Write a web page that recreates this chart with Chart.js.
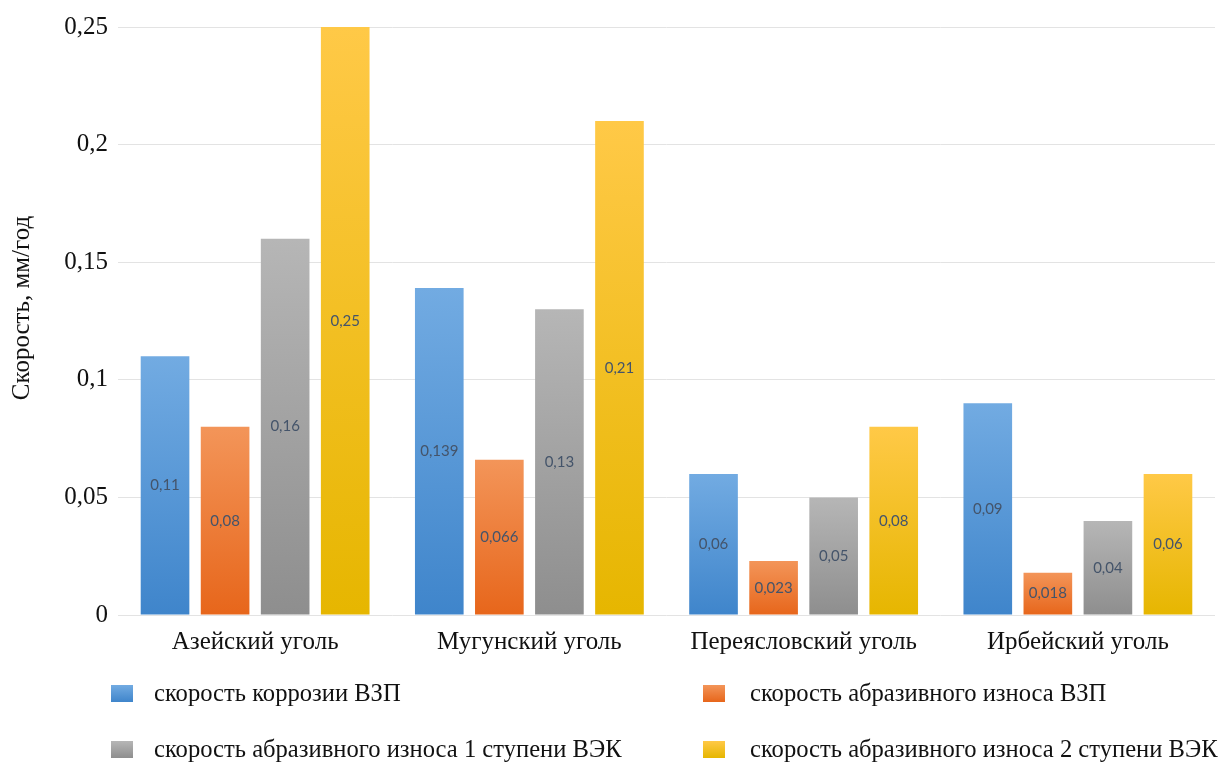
<!DOCTYPE html>
<html lang="ru">
<head>
<meta charset="utf-8">
<title>Скорость коррозии и абразивного износа</title>
<script src="https://cdn.jsdelivr.net/npm/chart.js@4/dist/chart.umd.min.js"></script>
<style>
  html, body { margin: 0; padding: 0; background: #ffffff; }
  #wrap { position: relative; width: 1221px; height: 763px; overflow: hidden; }
  #chart { position: absolute; left: 0; top: 0; }
  .legend-item {
    position: absolute; display: flex; align-items: center;
    font-family: "Liberation Serif", "Times New Roman", serif;
    font-size: 24.6px; color: #111; white-space: nowrap; line-height: 28px; height: 28px;
  }
  .legend-box { width: 22px; height: 17px; flex: none; }
</style>
</head>
<body>
<div id="wrap">
  <canvas id="chart" width="1221" height="763"></canvas>
</div>
<script>
// Угольные месторождения
const categories = ['Азейский уголь', 'Мугунский уголь', 'Переясловский уголь', 'Ирбейский уголь'];

// Скорости, мм/год
const corrosionVZP = [0.11, 0.139, 0.06, 0.09];
const abrasionVZP = [0.08, 0.066, 0.023, 0.018];
const abrasionVEK1 = [0.16, 0.13, 0.05, 0.04];
const abrasionVEK2 = [0.25, 0.21, 0.08, 0.06];

const seriesNames = [
  'скорость коррозии ВЗП',
  'скорость абразивного износа ВЗП',
  'скорость абразивного износа 1 ступени ВЭК',
  'скорость абразивного износа 2 ступени ВЭК'
];

// Подписи оси значений
const yTickLabels = ['0', '0,05', '0,1', '0,15', '0,2', '0,25'];
const yTitle = 'Скорость, мм/год';
const yMax = 0.25;
const yStep = 0.05;

// Градиенты заливки: [верх, низ]
const fills = [
  ['#72abe2', '#3f85cb'],
  ['#f39559', '#e7661b'],
  ['#b6b6b6', '#8e8e8e'],
  ['#ffc947', '#e6b600']
];

const fmt = v => String(v).replace('.', ',');

function barGradient(index) {
  return function (ctx) {
    const chart = ctx.chart;
    const top = fills[index][0], bottom = fills[index][1];
    if (!chart.chartArea || ctx.type !== 'data') return bottom;
    const y = chart.scales.y;
    const yTop = y.getPixelForValue(ctx.raw);
    const yBase = y.getPixelForValue(0);
    if (!isFinite(yTop) || yBase - yTop < 1) return bottom;
    const g = chart.ctx.createLinearGradient(0, yTop, 0, yBase);
    g.addColorStop(0, top);
    g.addColorStop(1, bottom);
    return g;
  };
}

const seriesValues = [corrosionVZP, abrasionVZP, abrasionVEK1, abrasionVEK2];

const datasets = seriesValues.map((vals, i) => ({
  label: seriesNames[i],
  data: vals,
  backgroundColor: barGradient(i),
  borderWidth: 0,
  categoryPercentage: 0.876,
  barPercentage: 0.81
}));

const serif = '"Liberation Serif", "Times New Roman", serif';

// Значения внутри столбцов
const valueLabels = {
  id: 'valueLabels',
  afterDatasetsDraw(chart) {
    const c = chart.ctx;
    c.save();
    c.font = '15px Lato, "Open Sans", sans-serif';
    c.fillStyle = '#44546a';
    c.textAlign = 'center';
    c.textBaseline = 'middle';
    chart.data.datasets.forEach((ds, di) => {
      const meta = chart.getDatasetMeta(di);
      meta.data.forEach((bar, i) => {
        const p = bar.getProps(['x', 'y', 'base'], true);
        c.fillText(fmt(ds.data[i]), p.x, (p.y + p.base) / 2);
      });
    });
    c.restore();
  }
};

// Вертикальная подпись оси значений, чуть выше центра области графика
const axisTitle = {
  id: 'axisTitle',
  afterDraw(chart) {
    const c = chart.ctx;
    const area = chart.chartArea;
    c.save();
    c.translate(22, (area.top + area.bottom) / 2 - 13);
    c.rotate(-Math.PI / 2);
    c.font = '25px ' + serif;
    c.fillStyle = '#111';
    c.textAlign = 'center';
    c.textBaseline = 'middle';
    c.fillText(yTitle, 0, 0);
    c.restore();
  }
};

const chart = new Chart(document.getElementById('chart'), {
  type: 'bar',
  data: { labels: categories, datasets },
  plugins: [valueLabels, axisTitle],
  options: {
    responsive: false,
    devicePixelRatio: 1,
    animation: false,
    layout: { padding: { left: 0, right: 6, top: 27, bottom: 100 } },
    plugins: {
      legend: { display: false },
      tooltip: { enabled: false }
    },
    scales: {
      x: {
        grid: { display: false, drawTicks: false },
        border: { display: false },
        ticks: {
          color: '#111',
          font: { family: serif, size: 25 },
          padding: 12,
          maxRotation: 0
        },
        afterFit(scale) { scale.height = 48; }
      },
      y: {
        min: 0,
        max: yMax,
        grid: { color: '#e3e3e3', lineWidth: 1, drawTicks: false },
        border: { display: false },
        ticks: {
          stepSize: yStep,
          color: '#111',
          font: { family: serif, size: 25 },
          padding: 10,
          callback: (v) => yTickLabels[Math.round(v / yStep)]
        },
        afterFit(scale) { scale.width = 118; }
      }
    }
  }
});

// Легенда в две колонки
const legendPos = [
  { left: 111, top: 679, gap: 21 },
  { left: 703, top: 679, gap: 25 },
  { left: 111, top: 735, gap: 21 },
  { left: 703, top: 735, gap: 25 }
];
const wrap = document.getElementById('wrap');
seriesNames.forEach((name, i) => {
  const item = document.createElement('div');
  item.className = 'legend-item';
  item.style.left = legendPos[i].left + 'px';
  item.style.top = legendPos[i].top + 'px';
  const box = document.createElement('span');
  box.className = 'legend-box';
  box.style.marginRight = legendPos[i].gap + 'px';
  box.style.background = 'linear-gradient(' + fills[i][0] + ',' + fills[i][1] + ')';
  const txt = document.createElement('span');
  txt.textContent = name;
  item.appendChild(box);
  item.appendChild(txt);
  wrap.appendChild(item);
});
</script>
</body>
</html>
